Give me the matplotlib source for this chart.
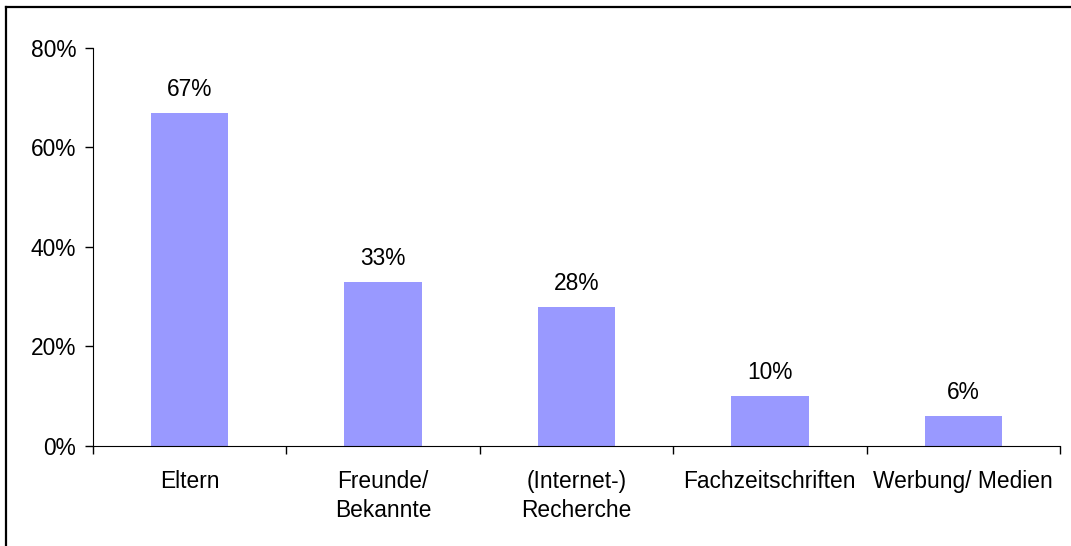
import numpy as np
import matplotlib.pyplot as plt
from matplotlib.lines import Line2D
from matplotlib.ticker import FixedLocator

plt.rcParams['font.family'] = ['Liberation Sans', 'DejaVu Sans']

categories = ['Eltern', 'Freunde/\nBekannte', '(Internet-)\nRecherche', 'Fachzeitschriften', 'Werbung/ Medien']
values = [67, 33, 28, 10, 6]
yticks = [0, 20, 40, 60, 80]

fs = 16.4

fig = plt.figure(figsize=(10.71, 5.46), dpi=100)
ax = fig.add_axes([0.0868, 0.1832, 0.9029, 0.7289])

x = np.arange(len(categories))
ax.bar(x, values, width=0.4, color='#9999FF')
for xi, v in zip(x, values):
    ax.text(xi, v + 2.4, f'{v}%', ha='center', va='bottom', fontsize=fs)

ax.set_xlim(-0.5, len(categories) - 0.5)
ax.set_ylim(0, 80)
ax.set_yticks(yticks)
ax.set_yticklabels([f'{t}%' for t in yticks], fontsize=fs)
ax.set_xticks(x)
ax.set_xticklabels(categories, fontsize=fs, linespacing=1.3)
ax.tick_params(axis='x', length=0, pad=17.5)
ax.xaxis.set_minor_locator(FixedLocator(np.arange(len(categories) + 1) - 0.5))
ax.tick_params(axis='x', which='minor', length=6, direction='out', width=1)
ax.tick_params(axis='y', length=6, direction='out', width=1, pad=6)

ax.spines['top'].set_visible(False)
ax.spines['right'].set_visible(False)

fig.add_artist(Line2D([6 / 1071, 6 / 1071], [0, 1 - 7 / 546], color='black', lw=1.6))
fig.add_artist(Line2D([6 / 1071, 1], [1 - 7 / 546, 1 - 7 / 546], color='black', lw=1.6))

fig.savefig('out.png', dpi=100)
